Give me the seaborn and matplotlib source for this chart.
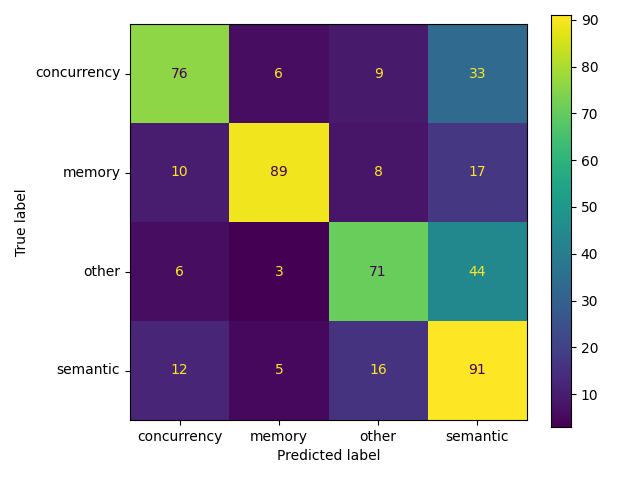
import matplotlib
matplotlib.use("Agg")
import matplotlib.pyplot as plt
import seaborn as sns
import numpy as np

labels = ["concurrency", "memory", "other", "semantic"]
values = [[76, 6, 9, 33],
          [10, 89, 8, 17],
          [6, 3, 71, 44],
          [12, 5, 16, 91]]

cm = np.array(values)
fig = plt.figure(figsize=(6.4, 4.8), dpi=100)
ax = fig.add_axes([130/640, 60/480, 397/640, 396/480])
cax = fig.add_axes([551/640, 53/480, 20/640, 412/480])
cmap = plt.get_cmap("viridis")
sns.heatmap(cm, cmap=cmap, annot=False, cbar=True, ax=ax, cbar_ax=cax,
            xticklabels=labels, yticklabels=labels, linewidths=0)
thresh = (cm.max() + cm.min()) / 2
for i in range(cm.shape[0]):
    for j in range(cm.shape[1]):
        c = cmap(0.0) if cm[i, j] > thresh else cmap(1.0)
        ax.text(j + 0.5, i + 0.5, str(cm[i, j]), ha="center", va="center", color=c, fontsize=10)
ax.set_xlabel("Predicted label")
ax.set_ylabel("True label")
ax.tick_params(axis="y", rotation=0)
ax.tick_params(axis="x", rotation=0)
for s in ax.spines.values():
    s.set_visible(True)
    s.set_color("black")
for s in cax.spines.values():
    s.set_visible(True)
    s.set_color("black")
fig.savefig("out.png", dpi=100)
